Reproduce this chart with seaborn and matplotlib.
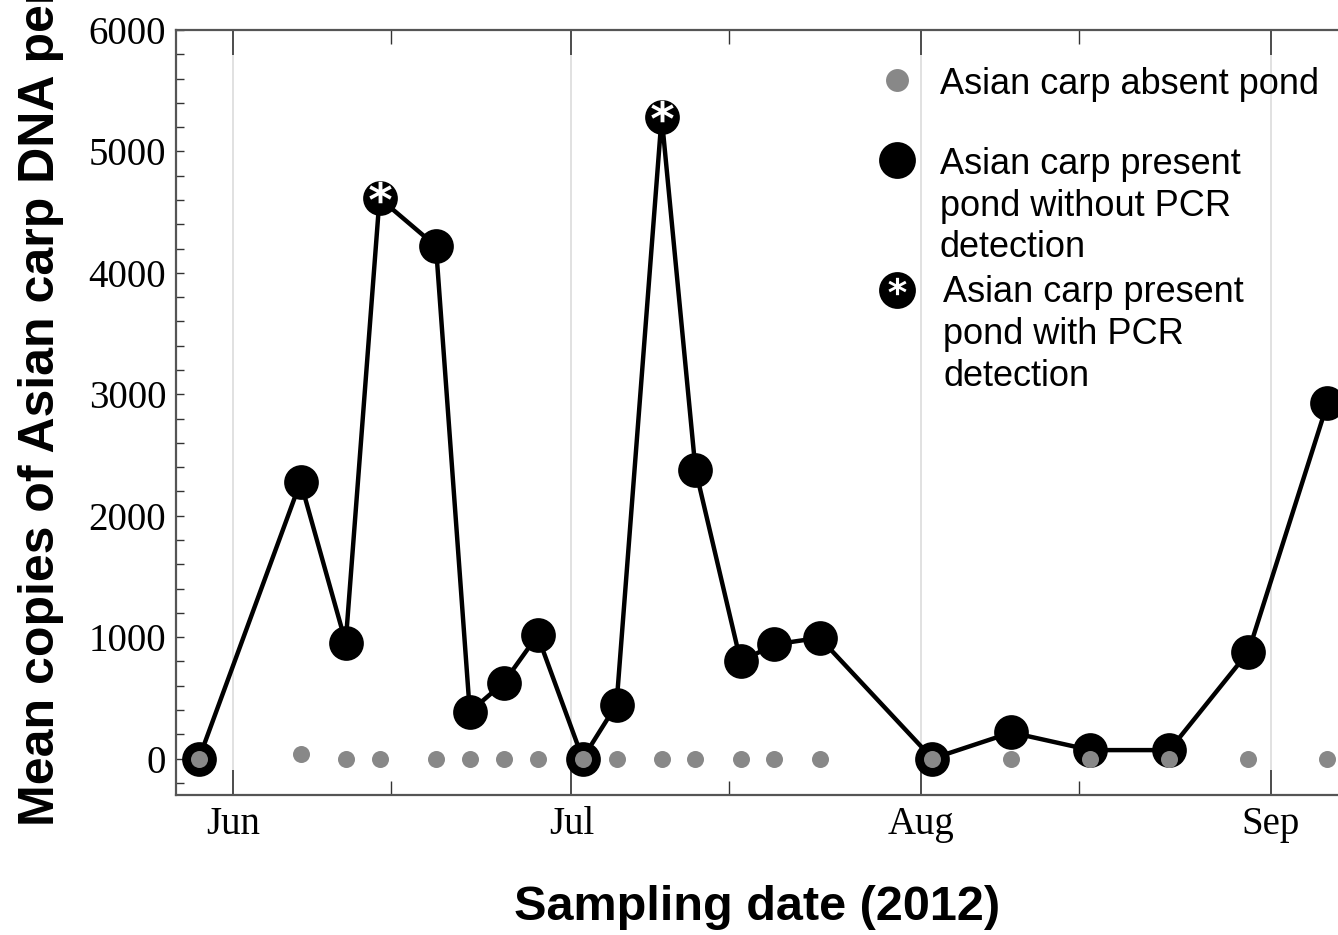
import matplotlib
matplotlib.use("Agg")
import matplotlib.pyplot as plt
import matplotlib.dates as mdates
import seaborn as sns
import pandas as pd

# sampling dates (2012) and mean copies per pond type
sample_dates = ['2012-05-29', '2012-06-07', '2012-06-11', '2012-06-14', '2012-06-19',
                '2012-06-22', '2012-06-25', '2012-06-28', '2012-07-02', '2012-07-05',
                '2012-07-09', '2012-07-12', '2012-07-16', '2012-07-19', '2012-07-23',
                '2012-08-02', '2012-08-09', '2012-08-16', '2012-08-23', '2012-08-30',
                '2012-09-06']
present_copies = [0, 2280, 955, 4615, 4220, 385, 625, 1015, 0, 445,
                  5285, 2380, 800, 940, 995, 0, 215, 70, 70, 880, 2925]
absent_copies = [0, 35, 0, 0, 0, 0, 0, 0, 0, 0,
                 0, 0, 0, 0, 0, 0, 0, 0, 0, 0, 0]
pcr_detected = [False, False, False, True, False, False, False, False, False, False,
                True, False, False, False, False, False, False, False, False, False, False]

legend_labels = ['Asian carp absent pond',
                 'Asian carp present\npond without PCR\ndetection',
                 'Asian carp present\npond with PCR\ndetection']

df = pd.DataFrame({'date': pd.to_datetime(sample_dates),
                   'present': present_copies,
                   'absent': absent_copies,
                   'pcr': pcr_detected})

sns.set_style("ticks")
plt.rcParams['font.family'] = ['Liberation Sans', 'DejaVu Sans']
plt.rcParams['text.color'] = 'black'
plt.rcParams['axes.labelcolor'] = 'black'

fig = plt.figure(figsize=(13.38, 9.35), dpi=100)
ax = fig.add_axes([0.1315, 0.1497, 0.8685, 0.8182])

sns.lineplot(data=df, x='date', y='present', color='black', lw=3.2, marker='o',
             markersize=25, markeredgewidth=0, markerfacecolor='black', ax=ax, zorder=3)
sns.scatterplot(data=df, x='date', y='absent', color='#888888', s=150, linewidth=0,
                ax=ax, zorder=4)
det = df[df['pcr']]
sns.scatterplot(x=det['date'], y=det['present'] + 50, marker=r'$\mathbf{*}$', color='white',
                s=260, linewidth=0, ax=ax, zorder=5)

ax.set_xlim(pd.Timestamp('2012-05-26 23:00'), pd.Timestamp('2012-09-06 22:30'))
ax.set_ylim(-300, 6000)

ax.xaxis.set_major_locator(mdates.MonthLocator())
ax.xaxis.set_minor_locator(mdates.DayLocator(bymonthday=15))
ax.xaxis.set_major_formatter(mdates.DateFormatter('%b'))
ax.set_yticks(range(0, 6001, 1000))
ax.set_yticks(range(-200, 6001, 200), minor=True)

ax.grid(axis='x', which='major', color='#dcdcdc', lw=1.2)
ax.grid(axis='y', visible=False)
ax.set_axisbelow(True)

for side in ['left', 'bottom', 'top']:
    ax.spines[side].set_color('#555555')
    ax.spines[side].set_linewidth(1.6)
ax.spines['right'].set_visible(False)

ax.tick_params(axis='x', which='major', direction='in', length=18, width=1.2,
               color='#333333', labelcolor='black', top=True, bottom=True, pad=8)
ax.tick_params(axis='x', which='minor', direction='in', length=10, width=1.0,
               color='#333333', top=True, bottom=True)
ax.tick_params(axis='y', which='both', direction='in', length=6, width=1.0,
               color='#333333', labelcolor='black', left=True, right=False, pad=7)
for lab in ax.get_xticklabels() + ax.get_yticklabels():
    lab.set_fontfamily('Liberation Serif')
    lab.set_fontsize(28)

ax.set_xlabel('Sampling date (2012)', fontsize=35, fontweight='bold')
ax.xaxis.set_label_coords(0.5, -0.118)
ax.set_ylabel('Mean copies of Asian carp DNA per L', fontsize=36, fontweight='bold',
              loc='bottom')
ax.yaxis.set_label_coords(-0.0964, -0.04)

# hand-placed legend (markers sit beside the first text line)
mx, tx = 0.6205, 0.6575
ax.plot([mx], [0.9346], 'o', color='#888888', ms=16.5, mew=0, transform=ax.transAxes,
        clip_on=False)
ax.plot([mx], [0.830], 'o', color='black', ms=26.5, mew=0, transform=ax.transAxes,
        clip_on=False)
ax.plot([mx], [0.660], 'o', color='black', ms=26.5, mew=0, transform=ax.transAxes,
        clip_on=False)
ax.plot([mx], [0.666], marker=r'$\mathbf{*}$', color='white', ms=13, mew=0,
        transform=ax.transAxes, clip_on=False)
text_y = [0.9516, 0.8471, 0.6797]
text_x = [tx, tx, tx + 0.003]
for lab, yy, xx in zip(legend_labels, text_y, text_x):
    ax.text(xx, yy, lab, transform=ax.transAxes, fontsize=26,
            va='top', ha='left', linespacing=1.25)

plt.savefig('out.png', dpi=100)
plt.close()
